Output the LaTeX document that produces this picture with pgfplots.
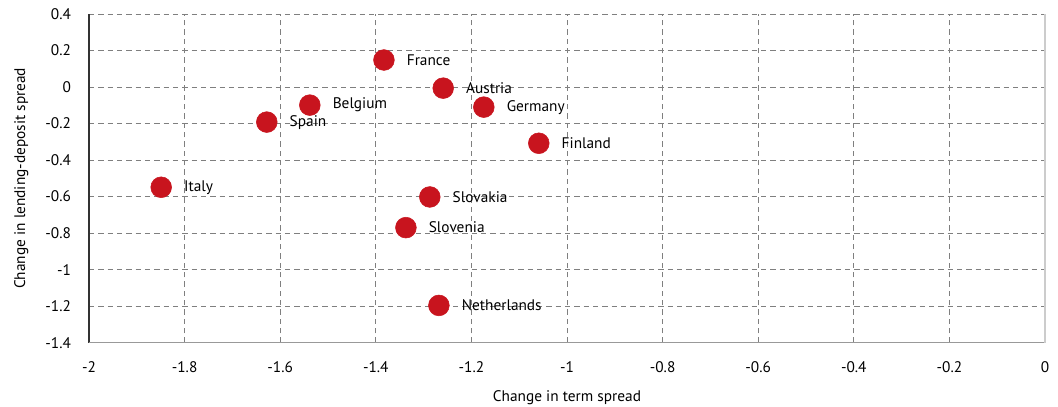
\documentclass[border=0pt]{standalone}
\usepackage{fontspec}
\setmainfont{PT Sans}
\usepackage{pgfplots}
\pgfplotsset{compat=1.18}
\definecolor{dotred}{HTML}{C8141E}
\definecolor{gridgray}{HTML}{7F7F7F}

\begin{document}
\begin{tikzpicture}[font=\fontsize{11.5}{13}\selectfont]
\begin{axis}[
    at={(0pt,0pt)}, anchor=south west,
    width=717pt, height=246.5pt,
    scale only axis,
    xmin=-2, xmax=0, ymin=-1.4, ymax=0.4,
    xtick={-2,-1.8,...,0}, ytick={-1.4,-1.2,...,0.41},
    /pgf/number format/assume math mode=true,
    /pgf/number format/fixed, /pgf/number format/precision=1,
    major tick length=0pt,
    grid=major,
    major grid style={gridgray, dash pattern=on 4pt off 3pt, line width=0.6pt},
    axis line style={draw=none},
    xlabel={Change in term spread},
    ylabel={Change in lending-deposit spread},
    xticklabel style={yshift=-11pt},
    yticklabel style={xshift=-10pt},
    xlabel style={yshift=-6pt},
    ylabel style={yshift=6pt},
    clip=false,
    point meta=explicit symbolic,
    nodes near coords,
    every node near coord/.style={anchor=west, inner sep=0pt, xshift=17pt, text=black, font=\fontsize{11.5}{13}\selectfont},
]
\draw[black!80, line width=0.8pt] (rel axis cs:0,0) -- (rel axis cs:0,1);
\draw[gray!80, line width=0.9pt] (rel axis cs:0,0) -- (rel axis cs:1,0);
\draw[gray!40, line width=0.8pt] (rel axis cs:1,0) -- (rel axis cs:1,1);
\addplot[only marks, color=dotred, mark=*, mark size=7.8pt, mark options={draw=dotred, fill=dotred}]
table[meta=label] {
x y label
-1.383 0.148 France
-1.259 -0.006 Austria
-1.174 -0.110 Germany
-1.059 -0.308 Finland
-1.538 -0.099 Belgium
-1.628 -0.192 Spain
-1.849 -0.549 Italy
-1.287 -0.602 Slovakia
-1.337 -0.770 Slovenia
-1.268 -1.196 Netherlands
};
\end{axis}
\pgfresetboundingbox
\path[use as bounding box] (-66.75pt,-48.2pt) rectangle (726.75pt,257pt);
\end{tikzpicture}
\end{document}
